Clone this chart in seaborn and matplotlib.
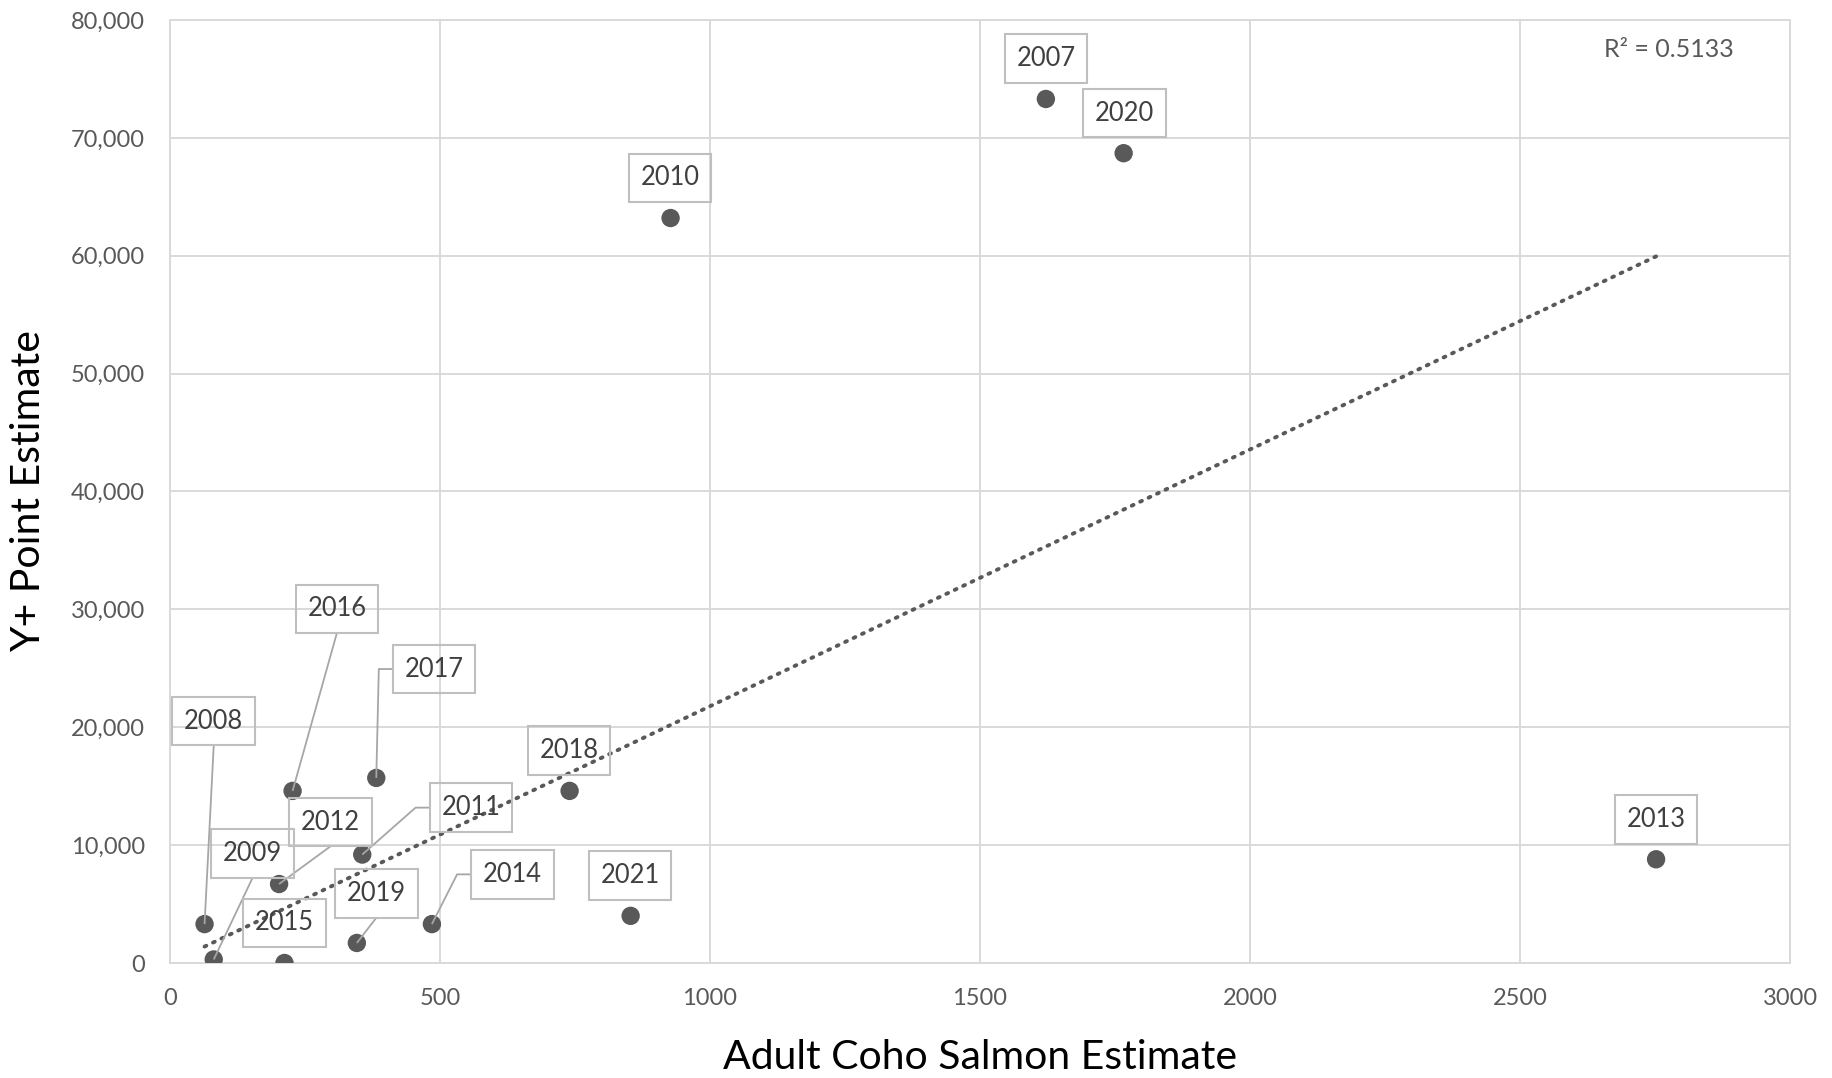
import numpy as np
import pandas as pd
import matplotlib
matplotlib.use("Agg")
import matplotlib.pyplot as plt
import seaborn as sns

# Adult coho escapement vs. Y+ juvenile point estimate, by brood year
years = ["2007", "2008", "2009", "2010", "2011", "2012", "2013", "2014",
         "2015", "2016", "2017", "2018", "2019", "2020", "2021"]
adult_coho = [1622, 64, 81, 927, 356, 202, 2752, 485,
              212, 227, 382, 740, 346, 1766, 853]
yplus_estimate = [73300, 3300, 300, 63200, 9200, 6700, 8800, 3300,
                  0, 14600, 15700, 14600, 1700, 68700, 4000]

# Label placement (data coords) and leader style for each year
label_x = [1622, 81, 153, 926, 557, 297, 2752, 634,
           212, 309, 489, 739, 382, 1767, 852]
label_y = [76750, 20530, 9290, 66600, 13180, 11950, 12180, 7520,
           3400, 30040, 24940, 18020, 5890, 72090, 7430]
leader = [None, "bottom", "bottom", None, "left", "bottom", None, "left",
          None, "bottom", "left", None, "bottom", None, None]

r2_text = "R² = 0.5133"

df = pd.DataFrame({"year": years, "adult": adult_coho, "yplus": yplus_estimate})

# Linear trendline with the intercept fixed at zero
x_arr = df["adult"].to_numpy(float)
y_arr = df["yplus"].to_numpy(float)
slope = (x_arr * y_arr).sum() / (x_arr ** 2).sum()
trend = pd.DataFrame({"adult": [x_arr.min(), x_arr.max()]})
trend["yplus"] = slope * trend["adult"]

sns.set_theme(style="white")
plt.rcParams["font.family"] = ["Lato", "DejaVu Sans"]

DARK = "#595959"
GRID = "#d9d9d9"
BOX = "#bfbfbf"

fig = plt.figure(figsize=(18.33, 10.78), dpi=100)
ax = fig.add_axes([170 / 1833, 1 - 963 / 1078, 1620 / 1833, 943 / 1078])

ax.set_xlim(0, 3000)
ax.set_ylim(0, 80000)
ax.set_xticks(np.arange(0, 3001, 500))
ax.set_yticks(np.arange(0, 80001, 10000))
ax.set_yticklabels([f"{int(v):,}" for v in np.arange(0, 80001, 10000)])
ax.grid(True, color=GRID, linewidth=1.4, zorder=0)
ax.set_axisbelow(True)
for s in ax.spines.values():
    s.set_color(GRID)
    s.set_linewidth(1.4)
ax.tick_params(axis="both", length=0, labelsize=17, labelcolor=DARK)
ax.tick_params(axis="y", pad=18)
ax.tick_params(axis="x", pad=18)

sns.lineplot(data=trend, x="adult", y="yplus", ax=ax, color=DARK,
             linewidth=2.8, linestyle=(0, (0.5, 1.9)),
             dash_capstyle="round", zorder=4, legend=False)

sns.scatterplot(data=df, x="adult", y="yplus", ax=ax, color=DARK, s=175,
                edgecolor="none", zorder=3, legend=False)

ax.set_xlabel("Adult Coho Salmon Estimate", fontsize=29.5, color="black")
ax.set_ylabel("Y+ Point Estimate", fontsize=29.5, color="black")
ax.xaxis.label.set_va("center")
ax.yaxis.label.set_va("center")
ax.xaxis.set_label_coords(0.5, -0.1)
ax.yaxis.set_label_coords(-0.0875, 0.5)

ax.text(2776, 77510, r2_text, fontsize=18, color=DARK, ha="center", va="center")

anns = []
for yr, lx, ly in zip(years, label_x, label_y):
    t = ax.text(lx, ly, yr, fontsize=18.4, color="#404040", ha="center", va="center",
                zorder=5,
                bbox=dict(boxstyle="square,pad=0.46", facecolor="none",
                          edgecolor=BOX, linewidth=1.5))
    anns.append(t)

fig.canvas.draw()
inv = ax.transData.inverted()
stub_px = 14
for t, kind, px, py in zip(anns, leader, adult_coho, yplus_estimate):
    if kind is None:
        continue
    ext = t.get_bbox_patch().get_window_extent()
    if kind == "bottom":
        start = inv.transform(((ext.x0 + ext.x1) / 2, ext.y0))
        xs = [start[0], px]
        ys = [start[1], py]
    else:
        ymid = (ext.y0 + ext.y1) / 2
        a = inv.transform((ext.x0, ymid))
        b = inv.transform((ext.x0 - stub_px, ymid))
        xs = [a[0], b[0], px]
        ys = [a[1], b[1], py]
    ax.plot(xs, ys, color="#a6a6a6", linewidth=1.3, zorder=4.5,
            solid_capstyle="butt")

fig.savefig("out.png", dpi=100)
